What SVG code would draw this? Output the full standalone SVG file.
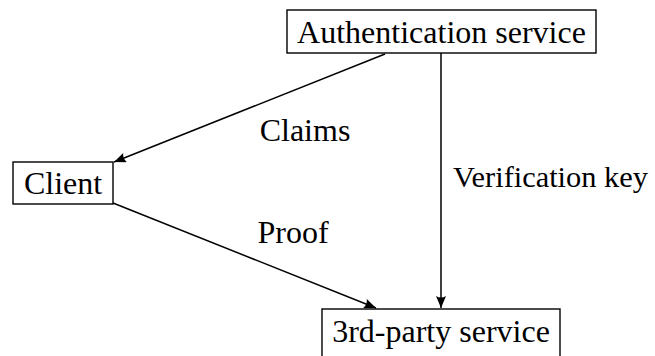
<svg xmlns="http://www.w3.org/2000/svg" width="655" height="356" viewBox="0 0 655 356">
  <defs>
    <style>
      .box { fill: #fff; stroke: #000; stroke-width: 1.4; }
      .lbl { font-family: "Liberation Serif", "Times New Roman", serif; font-size: 32px; fill: #000; }
      .edge { stroke: #000; stroke-width: 1.5; fill: none; marker-end: url(#head); }
    </style>
    <marker id="head" viewBox="0 0 12 10" refX="12" refY="5" markerWidth="12" markerHeight="10" markerUnits="userSpaceOnUse" orient="auto">
      <path d="M0,0 L12,5 L0,10 Q3,5 0,0 Z" fill="#000"/>
    </marker>
  </defs>
  <rect width="655" height="356" fill="#fff"/>

  <g id="connectors">
    <line class="edge" x1="385" y1="54" x2="114" y2="162"/>
    <line class="edge" x1="113" y1="203" x2="376" y2="308"/>
    <line class="edge" x1="441" y1="53" x2="441" y2="308"/>
    <text class="lbl" x="305" y="141" text-anchor="middle">Claims</text>
    <text class="lbl" x="293" y="243" text-anchor="middle">Proof</text>
    <text class="lbl" x="453" y="187" style="font-size:30.4px">Verification key</text>
  </g>

  <g id="auth">
    <rect class="box" x="287" y="10" width="309" height="43"/>
    <text class="lbl" x="441.5" y="43" text-anchor="middle">Authentication service</text>
  </g>

  <g id="client">
    <rect class="box" x="13" y="162" width="100" height="42"/>
    <text class="lbl" x="63" y="194" text-anchor="middle">Client</text>
  </g>

  <g id="third-party">
    <rect class="box" x="322" y="309" width="238" height="60"/>
    <text class="lbl" x="441" y="342" text-anchor="middle">3rd-party service</text>
  </g>
</svg>
